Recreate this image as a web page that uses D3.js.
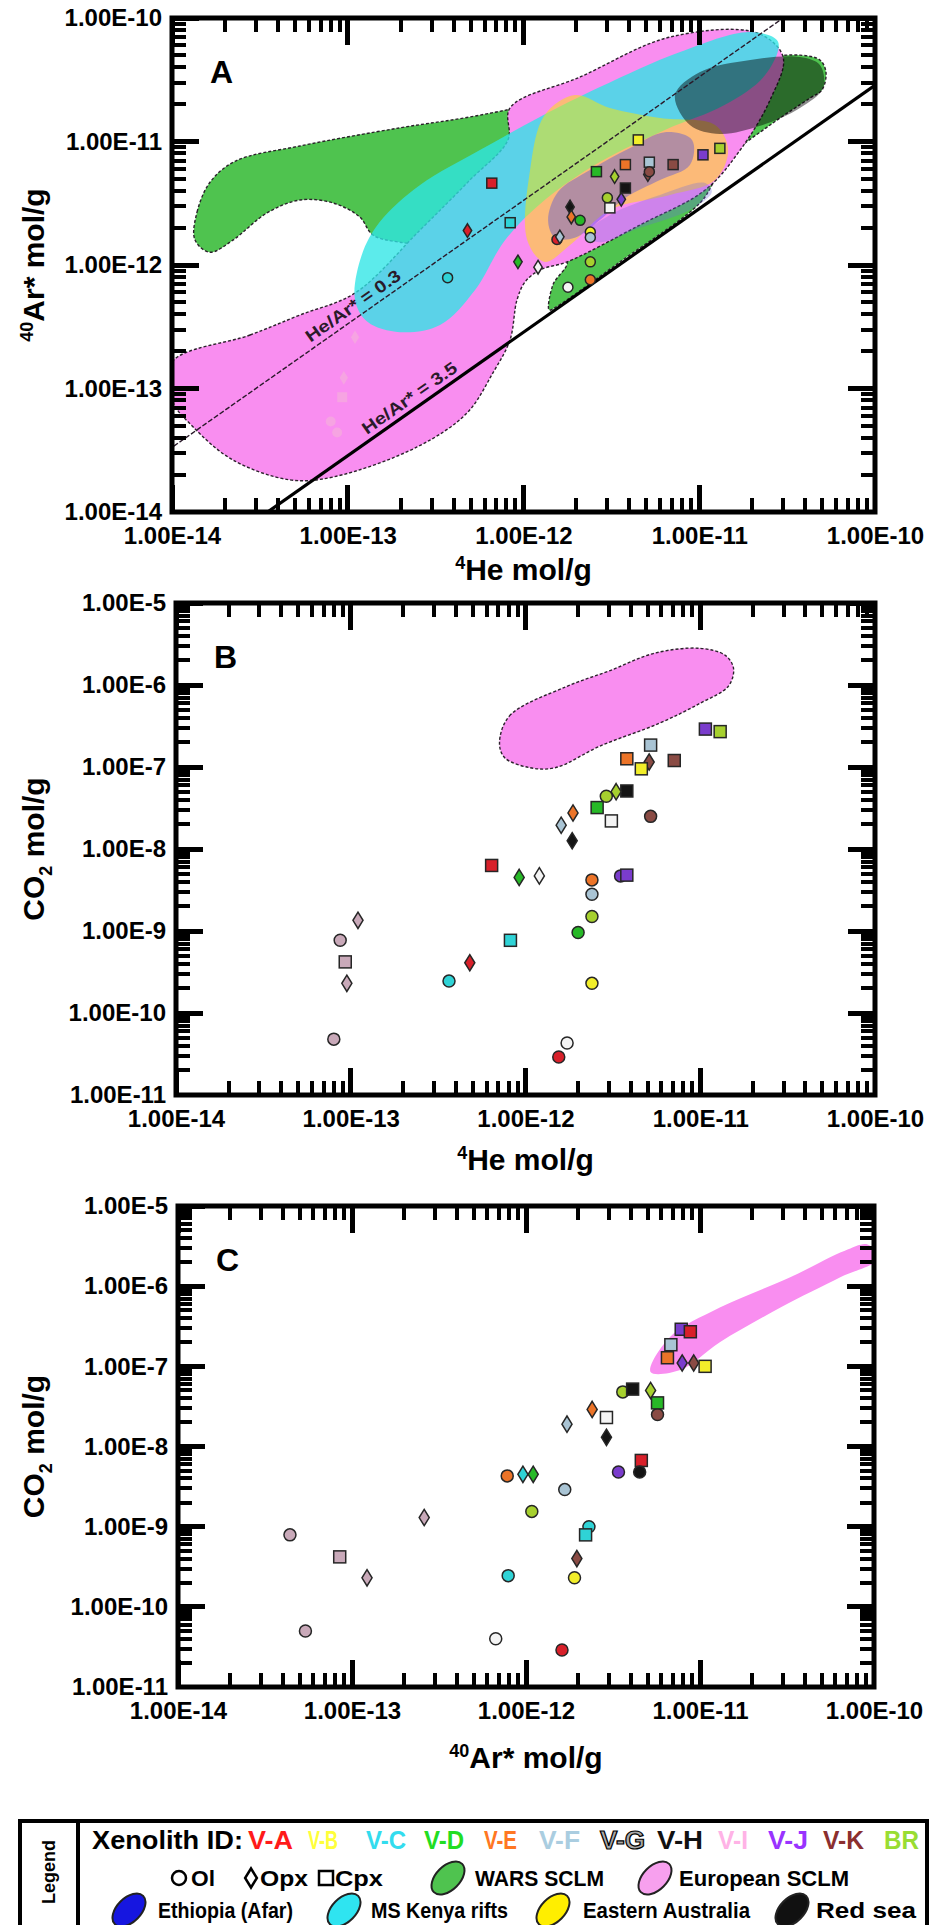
<!DOCTYPE html>
<html lang="en">
<head>
<meta charset="UTF-8">
<title>He - Ar* - CO2</title>
<script src="https://cdn.jsdelivr.net/npm/d3@7"></script>
<style>
    body { margin: 0; background: #fff; }
    svg { display: block; font-family: "Liberation Sans", Arial, sans-serif; font-weight: bold; }
</style>
</head>
<body>
<script>
    // xenolith ids + colours used for markers and legend text
    const xenolithIds = ['V-A', 'V-B', 'V-C', 'V-D', 'V-E', 'V-F', 'V-G', 'V-H', 'V-I', 'V-J', 'V-K', 'BR']
    const idColors = {
        'V-A': '#d8202a', 'V-B': '#f2ee2a', 'V-C': '#2fd3d6', 'V-D': '#27b927', 'V-E': '#ec7428', 'V-F': '#a9c4d4',
        'V-G': '#f4f4f4', 'V-H': '#141414', 'V-I': '#c9a9b9', 'V-J': '#7a3ccc', 'V-K': '#8a4b44', 'BR': '#a6d02e'
    }
    const legendText = {
        'V-A': '#ff1a1a', 'V-B': '#ffff3a', 'V-C': '#33dcee', 'V-D': '#22dd22', 'V-E': '#ff7722', 'V-F': '#aacde0',
        'V-G': '#a8a8a8', 'V-H': '#111111', 'V-I': '#ffb3e6', 'V-J': '#9933ff', 'V-K': '#8b2f2f', 'BR': '#99dd33'
    }
    const minerals = ['Ol', 'Opx', 'Cpx']

    // tick values
    const molTicks = [1e-14, 1e-13, 1e-12, 1e-11, 1e-10]
    const co2Ticks = [1e-11, 1e-10, 1e-9, 1e-8, 1e-7, 1e-6, 1e-5]
    const heArRatios = [0.3, 3.5]

    // panel A : [4He, 40Ar*, id, mineral]
    const heArPoints = [
        [1.1e-13, 2.6e-13, 'V-I', 'Opx'], [8.7e-14, 4.4e-14, 'V-I', 'Ol'], [9.3e-14, 8.5e-14, 'V-I', 'Cpx'],
        [9.5e-14, 1.22e-13, 'V-I', 'Opx'], [8.0e-14, 5.4e-14, 'V-I', 'Ol'],
        [6.6e-13, 4.6e-12, 'V-A', 'Cpx'], [4.8e-13, 1.9e-12, 'V-A', 'Opx'], [1.55e-12, 1.61e-12, 'V-A', 'Ol'],
        [8.4e-13, 2.2e-12, 'V-C', 'Cpx'], [3.7e-13, 7.9e-13, 'V-C', 'Ol'], [9.3e-13, 1.06e-12, 'V-D', 'Opx'],
        [1.21e-12, 9.6e-13, 'V-G', 'Opx'], [1.61e-12, 1.69e-12, 'V-F', 'Opx'], [2.4e-12, 1.85e-12, 'V-B', 'Ol'],
        [2.4e-12, 1.67e-12, 'V-F', 'Ol'], [2.4e-12, 1.06e-12, 'BR', 'Ol'], [2.4e-12, 7.6e-13, 'V-E', 'Ol'],
        [1.79e-12, 6.6e-13, 'V-G', 'Ol'], [2.6e-12, 5.7e-12, 'V-D', 'Cpx'], [3.8e-12, 6.5e-12, 'V-E', 'Cpx'],
        [5.2e-12, 6.8e-12, 'V-F', 'Cpx'], [5.1e-12, 5.4e-12, 'V-K', 'Opx'], [5.2e-12, 5.7e-12, 'V-K', 'Ol'],
        [7.1e-12, 6.5e-12, 'V-K', 'Cpx'], [1.05e-11, 7.8e-12, 'V-J', 'Cpx'], [1.31e-11, 8.8e-12, 'BR', 'Cpx'],
        [3.3e-12, 5.2e-12, 'BR', 'Opx'], [3.8e-12, 4.2e-12, 'V-H', 'Cpx'], [3.0e-12, 3.5e-12, 'BR', 'Ol'],
        [3.6e-12, 3.4e-12, 'V-J', 'Opx'], [3.1e-12, 2.9e-12, 'V-G', 'Cpx'], [1.84e-12, 2.95e-12, 'V-H', 'Opx'],
        [1.87e-12, 2.45e-12, 'V-E', 'Opx'], [2.1e-12, 2.3e-12, 'V-D', 'Ol'], [4.5e-12, 1.03e-11, 'V-B', 'Cpx']
    ]

    // panel B : [4He, CO2, id, mineral]
    const heCo2Points = [
        [5.1e-12, 1.15e-7, 'V-K', 'Opx'], [7.1e-12, 1.2e-7, 'V-K', 'Cpx'], [5.2e-12, 1.85e-7, 'V-F', 'Cpx'],
        [3.8e-12, 1.26e-7, 'V-E', 'Cpx'], [4.6e-12, 9.5e-8, 'V-B', 'Cpx'], [1.07e-11, 2.9e-7, 'V-J', 'Cpx'],
        [1.3e-11, 2.7e-7, 'BR', 'Cpx'], [3.8e-12, 5.1e-8, 'V-H', 'Cpx'], [3.3e-12, 5.0e-8, 'BR', 'Opx'],
        [2.9e-12, 4.4e-8, 'BR', 'Ol'], [2.57e-12, 3.2e-8, 'V-D', 'Cpx'], [3.1e-12, 2.2e-8, 'V-G', 'Cpx'],
        [5.2e-12, 2.5e-8, 'V-K', 'Ol'], [1.87e-12, 2.75e-8, 'V-E', 'Opx'], [1.6e-12, 1.95e-8, 'V-F', 'Opx'],
        [1.85e-12, 1.26e-8, 'V-H', 'Opx'], [6.4e-13, 6.3e-9, 'V-A', 'Cpx'], [9.2e-13, 4.5e-9, 'V-D', 'Opx'],
        [1.2e-12, 4.7e-9, 'V-G', 'Opx'], [2.4e-12, 4.2e-9, 'V-E', 'Ol'], [3.5e-12, 4.7e-9, 'V-J', 'Ol'],
        [3.8e-12, 4.8e-9, 'V-J', 'Cpx'], [2.4e-12, 2.8e-9, 'V-F', 'Ol'], [2.4e-12, 1.5e-9, 'BR', 'Ol'],
        [2.0e-12, 9.6e-10, 'V-D', 'Ol'], [8.2e-13, 7.7e-10, 'V-C', 'Cpx'], [4.8e-13, 4.1e-10, 'V-A', 'Opx'],
        [3.65e-13, 2.45e-10, 'V-C', 'Ol'], [2.4e-12, 2.3e-10, 'V-B', 'Ol'], [1.1e-13, 1.35e-9, 'V-I', 'Opx'],
        [8.7e-14, 7.7e-10, 'V-I', 'Ol'], [9.3e-14, 4.2e-10, 'V-I', 'Cpx'], [9.5e-14, 2.3e-10, 'V-I', 'Opx'],
        [8.0e-14, 4.8e-11, 'V-I', 'Ol'], [1.73e-12, 4.3e-11, 'V-G', 'Ol'], [1.55e-12, 2.9e-11, 'V-A', 'Ol']
    ]

    // panel C : [40Ar*, CO2, id, mineral]
    const arCo2Points = [
        [6.8e-12, 1.86e-7, 'V-F', 'Cpx'], [6.5e-12, 1.28e-7, 'V-E', 'Cpx'], [7.9e-12, 1.1e-7, 'V-J', 'Opx'],
        [9.2e-12, 1.1e-7, 'V-K', 'Opx'], [1.07e-11, 1.0e-7, 'V-B', 'Cpx'], [7.8e-12, 2.9e-7, 'V-J', 'Cpx'],
        [8.8e-12, 2.7e-7, 'V-A', 'Cpx'], [3.6e-12, 4.8e-8, 'BR', 'Ol'], [4.1e-12, 5.2e-8, 'V-H', 'Cpx'],
        [5.2e-12, 5.0e-8, 'BR', 'Opx'], [5.7e-12, 2.5e-8, 'V-K', 'Ol'], [5.7e-12, 3.5e-8, 'V-D', 'Cpx'],
        [2.4e-12, 2.9e-8, 'V-E', 'Opx'], [2.9e-12, 2.3e-8, 'V-G', 'Cpx'], [1.72e-12, 1.9e-8, 'V-F', 'Opx'],
        [2.9e-12, 1.3e-8, 'V-H', 'Opx'], [4.6e-12, 6.7e-9, 'V-A', 'Cpx'], [4.5e-12, 4.8e-9, 'V-H', 'Ol'],
        [3.4e-12, 4.8e-9, 'V-J', 'Ol'], [7.8e-13, 4.3e-9, 'V-E', 'Ol'], [9.6e-13, 4.5e-9, 'V-C', 'Opx'],
        [1.1e-12, 4.5e-9, 'V-D', 'Opx'], [1.67e-12, 2.9e-9, 'V-F', 'Ol'], [1.08e-12, 1.55e-9, 'BR', 'Ol'],
        [2.6e-13, 1.3e-9, 'V-I', 'Opx'], [2.3e-12, 1.0e-9, 'V-C', 'Ol'], [2.2e-12, 7.9e-10, 'V-C', 'Cpx'],
        [4.4e-14, 7.9e-10, 'V-I', 'Ol'], [8.5e-14, 4.2e-10, 'V-I', 'Cpx'], [1.96e-12, 4.0e-10, 'V-K', 'Opx'],
        [1.22e-13, 2.3e-10, 'V-I', 'Opx'], [7.9e-13, 2.45e-10, 'V-C', 'Ol'], [1.9e-12, 2.3e-10, 'V-B', 'Ol'],
        [5.4e-14, 5.0e-11, 'V-I', 'Ol'], [6.7e-13, 4.0e-11, 'V-G', 'Ol'], [1.61e-12, 2.9e-11, 'V-A', 'Ol']
    ]

    // field outlines, panel A in [4He, 40Ar*]
    const warsA = [
        [1.35e-14, 1.6e-12], [1.39e-14, 2.7e-12], [1.65e-14, 4.7e-12], [2.3e-14, 6.95e-12], [5.35e-14, 9.2e-12],
        [1.98e-13, 1.29e-11], [4.96e-13, 1.58e-11], [1.24e-12, 2.05e-11], [3.54e-12, 2.87e-11], [1.01e-11, 3.8e-11],
        [2.22e-11, 4.75e-11], [3.74e-11, 5.0e-11], [4.86e-11, 4.57e-11], [5.26e-11, 3.65e-11], [4.99e-11, 2.61e-11],
        [4.27e-11, 2.25e-11], [2.53e-11, 1.36e-11], [1.46e-11, 7.35e-12], [1.21e-11, 4.7e-12], [1.01e-11, 3.18e-12],
        [3.54e-12, 1.06e-12], [1.53e-12, 4.57e-13], [1.4e-12, 4.32e-13], [1.47e-12, 6.9e-13], [1.77e-12, 1.06e-12],
        [1.24e-12, 1.32e-12], [7.35e-13, 1.45e-12], [3.82e-13, 1.45e-12], [1.98e-13, 1.53e-12], [1.39e-13, 1.75e-12],
        [1.17e-13, 2.45e-12], [8.24e-14, 3.18e-12], [5.35e-14, 3.36e-12], [3.47e-14, 2.64e-12], [2.22e-14, 1.59e-12],
        [1.64e-14, 1.27e-12]
    ]
    const europeA = [
        [1e-14, 1.64e-13], [2.78e-14, 2.71e-13], [5.35e-14, 3.94e-13], [1.1e-13, 5.93e-13], [2.58e-13, 1.92e-12],
        [4.96e-13, 4.88e-12], [8.16e-13, 1.03e-11], [8.38e-13, 1.87e-11], [2.1e-12, 3.33e-11], [6.82e-12, 7.01e-11],
        [2.13e-11, 7.57e-11], [3.0e-11, 4.83e-11], [2.53e-11, 2.17e-11], [1.71e-11, 8.53e-12], [1.08e-11, 4.05e-12],
        [4.6e-12, 2.11e-12], [1.77e-12, 1.06e-12], [1.24e-12, 9.12e-13], [1.02e-12, 7.28e-13], [9.18e-13, 5.21e-13],
        [8.38e-13, 2.47e-13], [6.7e-13, 1.34e-13], [4.77e-13, 6.34e-14], [2.48e-13, 3.36e-14], [8.24e-14, 1.92e-14],
        [4.69e-14, 1.82e-14], [2.22e-14, 2.64e-14], [1.32e-14, 4.88e-14], [1e-14, 8.07e-14]
    ]
    const kenyaA = [
        [1.1e-13, 5.21e-13], [1.2e-13, 1.2e-12], [1.52e-13, 2.23e-12], [2.58e-13, 4.45e-12], [5.65e-13, 8.53e-12],
        [1.24e-12, 1.58e-11], [2.72e-12, 2.76e-11], [7.78e-12, 5.31e-11], [1.95e-11, 7.71e-11], [2.81e-11, 6.4e-11],
        [2.37e-11, 3.45e-11], [1.4e-11, 1.98e-11], [6.38e-12, 1.24e-11], [2.72e-12, 6.82e-12], [1.32e-12, 3.36e-12],
        [7.85e-13, 1.59e-12], [5.3e-13, 6.28e-13], [3.35e-13, 3.27e-13], [1.98e-13, 2.86e-13], [1.3e-13, 3.45e-13]
    ]
    const australiaA = [
        [1.05e-12, 1.59e-12], [1.09e-12, 5.87e-12], [1.32e-12, 1.64e-11], [1.96e-12, 2.38e-11], [3.1e-12, 1.87e-11],
        [5.98e-12, 1.55e-11], [1.23e-11, 1.36e-11], [1.46e-11, 8.53e-12], [1.23e-11, 4.88e-12], [6.82e-12, 3.69e-12],
        [3.1e-12, 2.79e-12], [1.84e-12, 1.45e-12], [1.32e-12, 1.06e-12]
    ]
    const afarA = [
        [1.38e-12, 2.31e-12], [1.57e-12, 3.9e-12], [2.39e-12, 5.87e-12], [4.04e-12, 8.85e-12], [6.38e-12, 1.19e-11],
        [9.1e-12, 1.03e-11], [8.85e-12, 6.46e-12], [5.98e-12, 4.88e-12], [3.78e-12, 3.49e-12], [2.72e-12, 2.31e-12],
        [1.96e-12, 1.66e-12], [1.51e-12, 1.66e-12]
    ]
    const afarA2 = [
        [2.24e-12, 1.75e-12], [3.1e-12, 2.54e-12], [5.98e-12, 3.69e-12], [1.08e-11, 4.61e-12], [1.18e-11, 3.9e-12],
        [8.85e-12, 2.79e-12], [4.6e-12, 2.0e-12], [2.72e-12, 1.53e-12]
    ]
    const redSeaA = [
        [7.28e-12, 2.38e-11], [1.01e-11, 3.65e-11], [1.95e-11, 4.57e-11], [3.74e-11, 4.83e-11], [4.86e-11, 4.16e-11],
        [5.06e-11, 2.71e-11], [3.74e-11, 1.87e-11], [2.22e-11, 1.34e-11], [1.31e-11, 1.15e-11], [8.85e-12, 1.36e-11]
    ]
    // European SCLM in panel B [4He, CO2] and panel C [40Ar*, CO2]
    const europeB = [
        [7.1e-13, 1.96e-7], [8.1e-13, 4.2e-7], [1.7e-12, 9.5e-7], [3.05e-12, 1.5e-6], [5.5e-12, 2.45e-6],
        [1.0e-11, 2.8e-6], [1.39e-11, 2.3e-6], [1.55e-11, 1.6e-6], [1.45e-11, 9.7e-7], [1.0e-11, 6.0e-7],
        [5.9e-12, 3.45e-7], [2.67e-12, 1.8e-7], [1.48e-12, 9.8e-8], [1.06e-12, 9.8e-8], [7.6e-13, 1.3e-7]
    ]
    const europeC = [
        [5.2e-12, 8.5e-8], [6.7e-12, 2.3e-7], [1.3e-11, 5.4e-7], [3.3e-11, 1.29e-6], [6.8e-11, 2.76e-6],
        [9.2e-11, 3.3e-6], [1.05e-10, 2.2e-6], [6.4e-11, 1.29e-6], [2.9e-11, 5.4e-7], [1.3e-11, 2e-7], [7.7e-12, 9e-8]
    ]

    const svg = d3.select('body').append('svg').attr('width', 938).attr('height', 1925)
    const fmt = v => '1.00E' + Math.round(Math.log10(v))
    const minorsOf = vals => vals.slice(0, -1).flatMap(t => [2, 3, 4, 5, 6, 7, 8, 9].map(k => k * t))

    const marker = (sel, shape, s) => {
        if (shape === 'Ol') return sel.append('circle').attr('r', s / 2)
        if (shape === 'Cpx') return sel.append('rect').attr('x', -s / 2).attr('y', -s / 2).attr('width', s).attr('height', s)
        return sel.append('path').attr('d', `M0,${-s * 0.68}L${s * 0.42},0L0,${s * 0.68}L${-s * 0.42},0Z`)
    }

    const drawPoints = (plot, data, x, y, s, faintPink) => {
        plot.append('g').selectAll('g').data(data).join('g')
            .attr('transform', d => `translate(${x(d[0])},${y(d[1])})`)
            .each(function (d) {
                const m = marker(d3.select(this), d[3], s)
                if (faintPink && d[2] === 'V-I') {
                    m.attr('fill', '#f5a6e0').attr('opacity', 0.9)
                } else {
                    m.attr('fill', idColors[d[2]]).attr('stroke', '#262626').attr('stroke-width', 1.5)
                }
            })
    }

    const drawField = (plot, pts, x, y, fill, opacity, outline) => {
        const line = d3.line().x(d => x(d[0])).y(d => y(d[1])).curve(d3.curveCatmullRomClosed.alpha(0.5))
        const p = plot.append('path').datum(pts).attr('d', line)
            .attr('fill', fill).attr('fill-opacity', opacity)
        if (outline) p.attr('stroke', '#2b222b').attr('stroke-width', 1.4).attr('stroke-dasharray', '3,2')
        else p.attr('stroke', 'none')
    }

    // inward tick bars along all four sides of a panel
    const drawTicks = (plot, x, y, p) => {
        const [x0, x1] = x.range(), [y0, y1] = y.range()
        const sets = [
            {xs: minorsOf(p.xticks), ys: minorsOf(p.yticks), len: 14, w: 4},
            {xs: p.xticks, ys: p.yticks, len: 27, w: 5}
        ]
        const g = plot.append('g').attr('fill', '#000').attr('shape-rendering', 'crispEdges')
        sets.forEach(s => {
            s.xs.forEach(v => {
                g.append('rect').attr('x', x(v) - s.w / 2).attr('y', y0 - s.len).attr('width', s.w).attr('height', s.len)
                g.append('rect').attr('x', x(v) - s.w / 2).attr('y', y1).attr('width', s.w).attr('height', s.len)
            })
            s.ys.forEach(v => {
                g.append('rect').attr('y', y(v) - s.w / 2).attr('x', x0).attr('height', s.w).attr('width', s.len)
                g.append('rect').attr('y', y(v) - s.w / 2).attr('x', x1 - s.len).attr('height', s.w).attr('width', s.len)
            })
        })
    }

    const drawPanel = p => {
        const x = d3.scaleLog().domain(d3.extent(p.xticks)).range([p.left, p.right])
        const y = d3.scaleLog().domain(d3.extent(p.yticks)).range([p.bottom, p.top])
        svg.append('clipPath').attr('id', 'clip' + p.name).append('rect')
            .attr('x', p.left).attr('y', p.top).attr('width', p.right - p.left).attr('height', p.bottom - p.top)
        const plot = svg.append('g').attr('clip-path', `url(#clip${p.name})`)
        p.draw(plot, x, y)
        drawTicks(plot, x, y, p)

        // tick labels through d3 axes
        const labelAxis = (gen, tx, ty) => svg.append('g').attr('transform', `translate(${tx},${ty})`).call(gen)
            .call(g => g.select('.domain').remove())
            .call(g => g.selectAll('.tick line').remove())
            .attr('font-size', 24).attr('font-family', '"Liberation Sans", Arial, sans-serif')
            .attr('font-weight', 'bold')
        labelAxis(d3.axisBottom(x).tickValues(p.xticks).tickSize(0).tickPadding(15).tickFormat(fmt), 0, p.bottom)
        labelAxis(d3.axisLeft(y).tickValues(p.yticks).tickSize(0).tickPadding(10).tickFormat(fmt), p.left, 0)

        svg.append('rect').attr('x', p.left).attr('y', p.top)
            .attr('width', p.right - p.left).attr('height', p.bottom - p.top)
            .attr('fill', 'none').attr('stroke', '#000').attr('stroke-width', 5)

        svg.append('text').attr('x', p.left + 38).attr('y', p.top + 65).attr('font-size', 32).text(p.name)

        const xt = svg.append('text').attr('x', (p.left + p.right) / 2).attr('y', p.xTitleY)
            .attr('text-anchor', 'middle').attr('font-size', 30)
        xt.append('tspan').attr('font-size', 18).attr('dy', -11).text(p.xTitle[0])
        xt.append('tspan').attr('dy', 11).text(p.xTitle[1])
        const yt = svg.append('text').attr('transform', `translate(44,${(p.top + p.bottom) / 2}) rotate(-90)`)
            .attr('text-anchor', 'middle').attr('font-size', 30)
        p.yTitle.forEach(([t, mode]) => {
            const ts = yt.append('tspan').text(t)
            if (mode === 'sup') ts.attr('font-size', 18).attr('dy', -11)
            else if (mode === 'sub') ts.attr('font-size', 18).attr('dy', 8)
            else if (mode === 'back-sup') ts.attr('dy', 11)
            else if (mode === 'back-sub') ts.attr('dy', -8)
        })
    }

    // ---------- panel A
    drawPanel({
        name: 'A', left: 172, right: 875, top: 18, bottom: 512, xticks: molTicks, yticks: molTicks,
        xTitleY: 580, xTitle: ['4', 'He mol/g'],
        yTitle: [['40', 'sup'], ['Ar* mol/g', 'back-sup']],
        draw: (plot, x, y) => {
            drawField(plot, warsA, x, y, '#4fc34f', 1, true)
            drawField(plot, europeA, x, y, '#f98ef0', 1, true)
            drawField(plot, kenyaA, x, y, '#2ee6e6', 0.78, false)
            drawField(plot, australiaA, x, y, '#ffe600', 0.5, false)
            drawField(plot, afarA, x, y, '#2a3cf0', 0.35, false)
            drawField(plot, afarA2, x, y, '#6a6ae0', 0.3, false)
            drawField(plot, redSeaA, x, y, '#000000', 0.45, false)
            // He/Ar* reference lines
            heArRatios.forEach(r => {
                plot.append('line')
                    .attr('x1', x(1e-15)).attr('y1', y(1e-15 / r)).attr('x2', x(1e-9)).attr('y2', y(1e-9 / r))
                    .attr('stroke', r < 1 ? '#2a1a2a' : '#000')
                    .attr('stroke-width', r < 1 ? 1.4 : 3.2)
                    .attr('stroke-dasharray', r < 1 ? '5,2' : null)
            })
            drawPoints(plot, heArPoints, x, y, 10, true)
            const ang = Math.atan2(y(1e-10) - y(1e-14), x(1e-10) - x(1e-14)) * 180 / Math.PI
            const labelHe = [1.17e-13, 2.45e-13]
            heArRatios.forEach((r, i) => {
                svg.append('text')
                    .attr('transform', `translate(${x(labelHe[i])},${y(labelHe[i] / r)}) rotate(${ang})`)
                    .attr('dy', -6).attr('text-anchor', 'middle').attr('font-size', 17).attr('fill', '#2a1a2a')
                    .attr('textLength', 112).attr('lengthAdjust', 'spacingAndGlyphs')
                    .text(`He/Ar* = ${r}`)
            })
        }
    })

    // ---------- panel B
    drawPanel({
        name: 'B', left: 176, right: 875, top: 603, bottom: 1095, xticks: molTicks, yticks: co2Ticks,
        xTitleY: 1170, xTitle: ['4', 'He mol/g'],
        yTitle: [['CO', null], ['2', 'sub'], [' mol/g', 'back-sub']],
        draw: (plot, x, y) => {
            drawField(plot, europeB, x, y, '#f98ef0', 1, true)
            drawPoints(plot, heCo2Points, x, y, 12, false)
        }
    })

    // ---------- panel C
    drawPanel({
        name: 'C', left: 178, right: 874, top: 1206, bottom: 1687, xticks: molTicks, yticks: co2Ticks,
        xTitleY: 1768, xTitle: ['40', 'Ar* mol/g'],
        yTitle: [['CO', null], ['2', 'sub'], [' mol/g', 'back-sub']],
        draw: (plot, x, y) => {
            drawField(plot, europeC, x, y, '#f98ef0', 1, false)
            drawPoints(plot, arCo2Points, x, y, 12, false)
        }
    })

    // ---------- legend
    const lg = svg.append('g')
    lg.append('rect').attr('x', 20).attr('y', 1821).attr('width', 907).attr('height', 120)
        .attr('fill', '#fff').attr('stroke', '#000').attr('stroke-width', 4)
    lg.append('rect').attr('x', 76).attr('y', 1821).attr('width', 4).attr('height', 104).attr('fill', '#000')
    lg.append('text').attr('transform', 'translate(55,1872) rotate(-90)').attr('text-anchor', 'middle')
        .attr('font-size', 18).text('Legend')

    const txt = (x, y, w, t, size, fill) => lg.append('text').attr('x', x).attr('y', y)
        .attr('font-size', size).attr('fill', fill || '#000')
        .attr('textLength', w).attr('lengthAdjust', 'spacingAndGlyphs').text(t)

    txt(92, 1849, 151, 'Xenolith ID:', 25)
    const idX = [248, 308, 366, 424, 484, 539, 600, 657, 718, 768, 823, 884]
    const idW = [45, 30, 40, 40, 33, 41, 45, 46, 30, 40, 41, 35]
    xenolithIds.forEach((id, i) => {
        const t = txt(idX[i], 1849, idW[i], id, 25, legendText[id])
        if (id === 'V-G') t.attr('stroke', '#000').attr('stroke-width', 1.2)
    })

    const shapeX = [179, 251, 326], shapeTx = [[191, 24], [260, 48], [335, 48]]
    minerals.forEach((m, i) => {
        const g = lg.append('g').attr('transform', `translate(${shapeX[i]},1878)`)
        marker(g, m, 14).attr('fill', '#fff').attr('stroke', '#000').attr('stroke-width', 2.5)
        txt(shapeTx[i][0], 1886, shapeTx[i][1], m, 22)
    })

    const blobs = [
        {cx: 448, cy: 1878, fill: '#4fc34f', label: 'WARS SCLM', tx: 475, tw: 129, ty: 1886},
        {cx: 655, cy: 1878, fill: '#f7a0ee', label: 'European SCLM', tx: 679, tw: 170, ty: 1886},
        {cx: 129, cy: 1910, fill: '#1616e0', label: 'Ethiopia (Afar)', tx: 158, tw: 135, ty: 1918},
        {cx: 344, cy: 1910, fill: '#2fe4f0', label: 'MS Kenya rifts', tx: 371, tw: 137, ty: 1918},
        {cx: 553, cy: 1910, fill: '#ffee00', label: 'Eastern Australia', tx: 583, tw: 167, ty: 1918},
        {cx: 792, cy: 1910, fill: '#111111', label: 'Red sea', tx: 816, tw: 100, ty: 1918}
    ]
    blobs.forEach(b => {
        lg.append('ellipse').attr('cx', b.cx).attr('cy', b.cy).attr('rx', 20).attr('ry', 12)
            .attr('transform', `rotate(-45,${b.cx},${b.cy})`)
            .attr('fill', b.fill).attr('stroke', '#222').attr('stroke-width', 2)
        txt(b.tx, b.ty, b.tw, b.label, 22)
    })
</script>
</body>
</html>
